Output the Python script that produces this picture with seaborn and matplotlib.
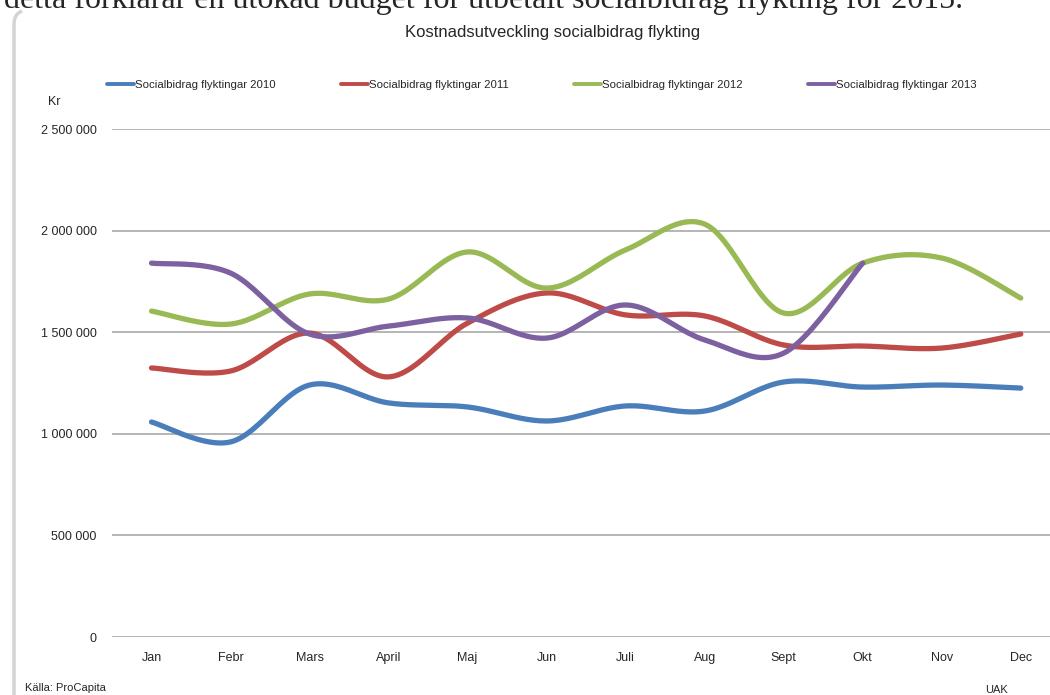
import numpy as np
import pandas as pd
import seaborn as sns
import matplotlib.pyplot as plt
from matplotlib.path import Path
from matplotlib.patches import PathPatch

manader = ["Jan", "Febr", "Mars", "April", "Maj", "Jun", "Juli", "Aug", "Sept", "Okt", "Nov", "Dec"]
serier = ["Socialbidrag flyktingar 2010", "Socialbidrag flyktingar 2011",
          "Socialbidrag flyktingar 2012", "Socialbidrag flyktingar 2013"]
v2010 = [1058000, 960000, 1240000, 1152000, 1132000, 1063000, 1137000, 1112000, 1255000, 1230000, 1240000, 1225000]
v2011 = [1324000, 1309000, 1496000, 1280000, 1545000, 1693000, 1585000, 1580000, 1437000, 1432000, 1422000, 1491000]
v2012 = [1604000, 1540000, 1688000, 1663000, 1895000, 1717000, 1905000, 2032000, 1594000, 1840000, 1865000, 1668000]
v2013 = [1840000, 1791000, 1491000, 1530000, 1570000, 1471000, 1634000, 1462000, 1397000, 1840000, np.nan, np.nan]
farger = ["#4a7ebb", "#be4b48", "#98b954", "#7d60a0"]
yticks = [0, 500000, 1000000, 1500000, 2000000, 2500000]


def smooth(y, n=24):
    # excel-like smoothed line (catmull-rom through the points)
    y = np.asarray(y, dtype=float)
    y = y[~np.isnan(y)]
    x = np.arange(len(y), dtype=float)
    xs, ys = [], []
    for i in range(len(y) - 1):
        i0, i3 = max(i - 1, 0), min(i + 2, len(y) - 1)
        t = np.linspace(0, 1, n, endpoint=False)
        for arr, out in ((x, xs), (y, ys)):
            p0, p1, p2, p3 = arr[i0], arr[i], arr[i + 1], arr[i3]
            out.extend(0.5 * (2 * p1 + (-p0 + p2) * t + (2 * p0 - 5 * p1 + 4 * p2 - p3) * t ** 2
                              + (-p0 + 3 * p1 - 3 * p2 + p3) * t ** 3))
    xs.append(x[-1])
    ys.append(y[-1])
    return xs, ys


rows = []
for namn, vals in zip(serier, [v2010, v2011, v2012, v2013]):
    xs, ys = smooth(vals)
    rows.append(pd.DataFrame({"Månad": xs, "Kr": ys, "Serie": namn}))
df = pd.concat(rows, ignore_index=True)

sns.set_style("white")
plt.rcParams['font.family'] = ['Liberation Sans', 'DejaVu Sans']

fig = plt.figure(figsize=(10.5, 6.95), dpi=100)
ax = fig.add_axes([112 / 1050, 1 - 637 / 695, (1050 - 112) / 1050, (637 - 129) / 695])

sns.lineplot(data=df, x="Månad", y="Kr", hue="Serie", palette=farger, sort=False,
             estimator=None, lw=3.8, ax=ax, legend=False, solid_capstyle="round")

ax.set_ylim(0, 2500000)
ax.set_xlim(-0.5, 11.37)
ax.set_yticks(yticks)
ax.set_yticklabels([f"{v:,.0f}".replace(",", " ") for v in yticks], fontsize=9)
ax.set_xticks(range(len(manader)))
ax.set_xticklabels(manader, fontsize=9)
ax.tick_params(axis="y", length=0, pad=11)
ax.tick_params(axis="x", length=0, pad=11)
ax.grid(axis="y", color="#a0a0a0", lw=1.1)
ax.set_axisbelow(True)
for s in ax.spines.values():
    s.set_visible(False)
ax.set_xlabel("")
ax.set_ylabel("")

# legend
handles = [plt.Line2D([], [], color=c, lw=2.8) for c in farger]
fig.legend(handles, serier, loc="center left", bbox_to_anchor=(102 / 1050, 1 - 85 / 695),
           ncol=4, frameon=False, fontsize=8.2, handlelength=2.4, handletextpad=0.1,
           columnspacing=5.7, borderaxespad=0)

# texts
fig.text(553 / 1050, 1 - 33 / 695, "Kostnadsutveckling socialbidrag flykting",
         ha="center", va="center", fontsize=12)
fig.text(48 / 1050, 1 - 102 / 695, "Kr", ha="left", va="center", fontsize=9)
fig.text(25 / 1050, 1 - 688 / 695, "Källa: ProCapita", ha="left", va="center", fontsize=8)
fig.text(985 / 1050, 1 - 690 / 695, "UAK", ha="left", va="center", fontsize=8)
fig.text(4 / 1050, 1 - 8 / 695,
         "detta förklarar en utökad budget för utbetalt socialbidrag flykting för 2015.",
         ha="left", va="baseline", fontsize=23, family="Liberation Serif")

# chart frame: left edge with rounded top corner
W, H = 1050, 695
pts = [(14 / W, 0), (14 / W, 1 - 24 / H), (14 / W, 1 - 14 / H), (22 / W, 1 - 11 / H)]
frame = Path(pts, [Path.MOVETO, Path.LINETO, Path.CURVE3, Path.CURVE3])
fig.patches.append(PathPatch(frame, transform=fig.transFigure, fill=False,
                             ec="#d4d4d4", lw=2.5, zorder=0))

fig.savefig("out.png", dpi=100, facecolor="white")
